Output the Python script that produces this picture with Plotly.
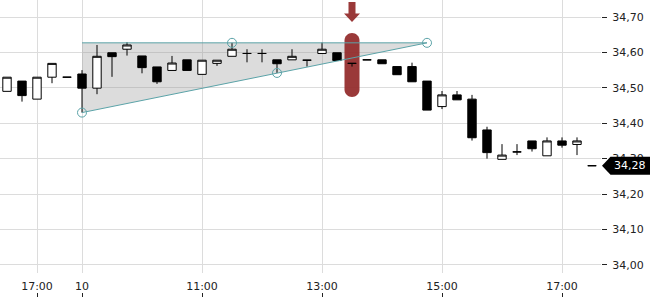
import plotly.graph_objects as go

# ---- data ----
times = (["09 16:30", "09 16:45", "09 17:00", "09 17:15", "09 17:30"] +
         ["10 %02d:%02d" % (9 + (i * 15) // 60, (i * 15) % 60) for i in range(35)])

opens = [34.490, 34.519, 34.468, 34.530, 34.530, 34.539, 34.499, 34.599, 34.609, 34.590,
         34.559, 34.549, 34.579, 34.538, 34.569, 34.589, 34.597, 34.597, 34.579, 34.579,
         34.578, 34.597, 34.599, 34.569, 34.579, 34.579, 34.560, 34.560, 34.519, 34.447,
         34.480, 34.468, 34.381, 34.298, 34.319, 34.350, 34.308, 34.350, 34.340, 34.280]
highs = [34.530, 34.519, 34.530, 34.569, 34.530, 34.550, 34.621, 34.599, 34.629, 34.590,
         34.559, 34.590, 34.579, 34.578, 34.578, 34.627, 34.609, 34.609, 34.579, 34.609,
         34.578, 34.628, 34.599, 34.569, 34.579, 34.579, 34.560, 34.571, 34.519, 34.491,
         34.491, 34.480, 34.390, 34.341, 34.341, 34.350, 34.360, 34.360, 34.360, 34.280]
lows = [34.490, 34.461, 34.468, 34.513, 34.530, 34.430, 34.482, 34.531, 34.591, 34.541,
        34.511, 34.549, 34.549, 34.538, 34.562, 34.589, 34.572, 34.572, 34.542, 34.579,
        34.560, 34.597, 34.577, 34.560, 34.579, 34.568, 34.537, 34.517, 34.437, 34.440,
        34.466, 34.351, 34.300, 34.298, 34.310, 34.320, 34.308, 34.331, 34.310, 34.280]
closes = [34.530, 34.478, 34.530, 34.569, 34.530, 34.499, 34.589, 34.588, 34.621, 34.557,
          34.517, 34.570, 34.549, 34.578, 34.578, 34.609, 34.597, 34.597, 34.568, 34.589,
          34.578, 34.609, 34.577, 34.569, 34.579, 34.568, 34.537, 34.517, 34.437, 34.480,
          34.466, 34.359, 34.317, 34.310, 34.319, 34.328, 34.350, 34.338, 34.350, 34.280]

tick_times = ["09 17:00", "10 09:00", "10 11:00", "10 13:00", "10 15:00", "10 17:00"]
tick_labels = ["17:00", "10", "11:00", "13:00", "15:00", "17:00"]
y_ticks = [34.0, 34.1, 34.2, 34.3, 34.4, 34.5, 34.6, 34.7]

# triangle pattern (time, value)
tri_start = "10 09:00"
tri_end = "10 14:45"
tri_top = 34.627
tri_low = 34.430
pattern_pts_t = ["10 09:00", "10 11:30", "10 12:15", "10 14:45"]
pattern_pts_v = [34.430, 34.627, 34.542, 34.627]

marker_time = "10 13:30"
marker_low = 34.474
marker_high = 34.655

last_price = closes[-1]

# ---- figure ----
TEAL = "#5ba3a8"
RED = "rgba(145,40,40,0.92)"

fig = go.Figure()

fig.add_trace(go.Candlestick(
    x=times, open=opens, high=highs, low=lows, close=closes,
    increasing=dict(fillcolor="white", line=dict(color="black", width=1)),
    decreasing=dict(fillcolor="black", line=dict(color="black", width=1)),
    whiskerwidth=0, showlegend=False))

fig.add_trace(go.Scatter(
    x=[tri_start, tri_end, tri_start],
    y=[tri_top, tri_top, tri_low],
    mode="lines", line=dict(color=TEAL, width=1), hoverinfo="skip", showlegend=False))

fig.add_trace(go.Scatter(
    x=pattern_pts_t, y=pattern_pts_v, mode="markers",
    marker=dict(symbol="circle-open", size=9, color=TEAL, line=dict(width=1, color=TEAL)),
    hoverinfo="skip", showlegend=False))

# dummy for the lower tick axis
fig.add_trace(go.Scatter(x=[], y=[], xaxis="x2", showlegend=False))

# triangle fill (below the candles)
i0, i1 = times.index(tri_start), times.index(tri_end)
fig.add_shape(type="path", xref="x", yref="y",
              path=f"M {i0},{tri_top} L {i1},{tri_top} L {i0},{tri_low} Z",
              fillcolor="rgba(150,150,150,0.33)", line=dict(width=0), layer="between")

mid = (marker_low + marker_high) / 2
pill = ("M -7.5,24.5 C -7.5,28.6 -4.1,32 0,32 C 4.1,32 7.5,28.6 7.5,24.5 "
        "L 7.5,-24.5 C 7.5,-28.6 4.1,-32 0,-32 C -4.1,-32 -7.5,-28.6 -7.5,-24.5 Z")
arrow = "M 0,43 L -8,51.5 L -3.5,51.5 L -3.5,63 L 3.5,63 L 3.5,51.5 L 8,51.5 Z"
for p in (pill, arrow):
    fig.add_shape(type="path", path=p, xref="x", yref="y",
                  xsizemode="pixel", ysizemode="pixel",
                  xanchor=marker_time, yanchor=mid,
                  fillcolor=RED, line=dict(width=0), layer="between")

# last price tag
fig.add_shape(type="path", path="M 1,0 L 9.5,9 L 49,9 L 49,-9 L 9.5,-9 Z",
              xref="paper", yref="y", xsizemode="pixel", ysizemode="pixel",
              xanchor=1, yanchor=last_price, fillcolor="black", line=dict(width=0),
              layer="above")
fig.add_annotation(x=1, xref="paper", y=last_price, yref="y",
                   text=f"{last_price:.2f}".replace(".", ","), showarrow=False,
                   xanchor="left", xshift=11, font=dict(color="white", size=11,
                                                        family="DejaVu Sans"))

idx_ticks = [times.index(t) for t in tick_times]
xr = [-0.467, 39.6]

fig.update_layout(
    width=650, height=300,
    margin=dict(l=0, r=49, t=0, b=0),
    paper_bgcolor="white", plot_bgcolor="white",
    font=dict(family="DejaVu Sans", size=11, color="#222"),
    separators=",.",
    boxgap=0.2,
    showlegend=False,
    xaxis=dict(type="category", categoryorder="array", categoryarray=times,
               range=xr, tickvals=tick_times, ticktext=tick_labels,
               ticks="", showgrid=True, gridcolor="#dcdcdc", gridwidth=1,
               showline=False, zeroline=False, rangeslider=dict(visible=False),
               ticklabelstandoff=5, automargin=False, fixedrange=True),
    xaxis2=dict(type="linear", overlaying="x", anchor="free", position=0.01,
                range=xr, tickvals=idx_ticks, ticks="inside", ticklen=4,
                tickcolor="#222", showticklabels=False, showgrid=False,
                zeroline=False, showline=False),
    yaxis=dict(domain=[0.09, 1], side="right", range=[33.977, 34.748],
               tickvals=y_ticks, tickformat=".2f", ticks="outside", ticklen=5,
               tickcolor="#222", showgrid=True, gridcolor="#dcdcdc", gridwidth=1,
               zeroline=False, showline=False, ticklabelstandoff=3, automargin=False),
)

fig.write_html("out.html")
